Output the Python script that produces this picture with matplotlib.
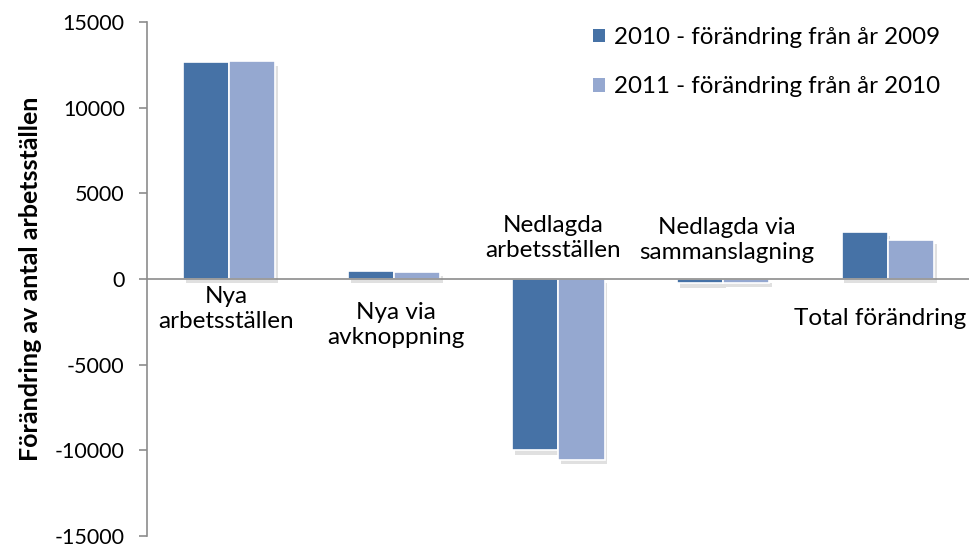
import matplotlib
matplotlib.use("Agg")
import matplotlib.pyplot as plt
import matplotlib.patheffects as pe
import numpy as np

categories = ["Nya\narbetsställen", "Nya via\navknoppning", "Nedlagda\narbetsställen",
              "Nedlagda via\nsammanslagning", "Total förändring"]
series_names = ["2010 - förändring från år 2009", "2011 - förändring från år 2010"]
values_2010 = [12650, 450, -10000, -250, 2750]
values_2011 = [12700, 420, -10560, -200, 2300]
yticks = [-15000, -10000, -5000, 0, 5000, 10000, 15000]

plt.rcParams['font.family'] = ['Lato', 'DejaVu Sans']

fig = plt.figure(figsize=(9.7, 5.51), dpi=100)
ax = fig.add_axes([0.1515, 0.027, 0.8485, 0.933])

x = np.arange(len(categories))
w = 0.28
colors = ["#4672A6", "#95A8D0"]
shadow = [pe.SimplePatchShadow(offset=(2, -3), shadow_rgbFace="#999999", alpha=0.3), pe.Normal()]
for i, (vals, c, name) in enumerate(zip([values_2010, values_2011], colors, series_names)):
    bars = ax.bar(x + (i - 0.5) * w, vals, w, color=c, edgecolor="white", linewidth=1.2,
                  label=name, zorder=3)
    for b in bars:
        b.set_path_effects(shadow)

ax.set_xlim(-0.5, 4.5)
ax.set_ylim(-15000, 15000)
ax.set_yticks(yticks)
ax.set_yticklabels([str(t) for t in yticks], fontsize=15.5)
ax.set_xticks([])
for s in ["top", "right", "bottom"]:
    ax.spines[s].set_visible(False)
ax.spines["left"].set_color("#8c8c8c")
ax.spines["left"].set_linewidth(1.2)
ax.tick_params(axis="y", direction="out", length=6, color="#8c8c8c", width=1.2, pad=10)
ax.axhline(0, color="#8c8c8c", linewidth=1.2, zorder=4)
ax.set_ylabel("Förändring av antal arbetsställen", fontsize=18, fontweight="bold")
ax.yaxis.set_label_coords(-0.128, 0.5)

# category labels
label_pos = [(-0.02, -400, "top"), (1.01, -1350, "top"), (1.97, 1050, "bottom"),
             (3.02, 950, "bottom"), (3.955, -2300, "center")]
for (xp, yp, va), lab in zip(label_pos, categories):
    ax.text(xp, yp, lab, ha="center", va=va, fontsize=17.5, linespacing=1.25, zorder=5)

leg = ax.legend(loc="upper left", bbox_to_anchor=(593 / 970, 1 - 27 / 551),
                bbox_transform=fig.transFigure, frameon=False, fontsize=17.4,
                handlelength=0.5, handleheight=0.5, labelspacing=1.17, handletextpad=0.35,
                borderpad=0, borderaxespad=0)
for h in leg.legend_handles:
    h.set_path_effects([])
    h.set_edgecolor("none")

fig.savefig("out.png", dpi=100)
